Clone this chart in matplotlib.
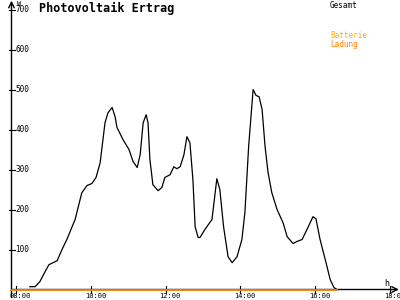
import matplotlib
matplotlib.use("Agg")
import matplotlib.pyplot as plt
import numpy as np

# Gesamt power in W, time in decimal hours
hours = [8.37, 8.51, 8.64, 8.78, 8.88, 8.99, 9.10, 9.23, 9.36, 9.58, 9.76, 9.90,
         10.03, 10.14, 10.25, 10.38, 10.46, 10.57, 10.65, 10.70, 10.86, 11.02, 11.13,
         11.24, 11.32, 11.40, 11.48, 11.53, 11.58, 11.66, 11.80, 11.90, 11.98, 12.12,
         12.22, 12.30, 12.39, 12.49, 12.57, 12.65, 12.73, 12.79, 12.87, 12.92, 13.05,
         13.24, 13.37, 13.45, 13.55, 13.67, 13.78, 13.91, 14.04, 14.12, 14.22, 14.34,
         14.42, 14.50, 14.58, 14.66, 14.74, 14.84, 14.98, 15.14, 15.25, 15.41, 15.51,
         15.65, 15.78, 15.94, 16.02, 16.13, 16.29, 16.40, 16.50, 16.58]
gesamt = [7, 7, 20, 45, 62, 67, 72, 100, 125, 175, 242, 260,
          265, 280, 317, 417, 442, 455, 432, 405, 375, 350, 320,
          305, 337, 417, 437, 417, 325, 262, 247, 255, 280, 287,
          307, 302, 307, 337, 382, 367, 275, 157, 130, 130, 150,
          175, 277, 250, 157, 82, 67, 82, 125, 192, 357, 500,
          485, 482, 450, 357, 292, 242, 200, 167, 132, 115, 120,
          125, 150, 182, 177, 125, 67, 25, 5, 0]

# Ladung stays at zero all day
ladung_hours = [7.87, 16.58]
ladung = [0, 0]

y_ticks = [100, 200, 300, 400, 500, 600, 700]
x_ticks = [8, 10, 12, 14, 16, 18]
x_labels = ["08:00", "10:00", "12:00", "14:00", "16:00", "18:00"]

W, H = 400, 300
fig = plt.figure(figsize=(4, 3), dpi=100)
ax = fig.add_axes([0, 0, 1, 1])
x0 = 8 + (0 - 16) / 37.4
x1 = 8 + (W - 16) / 37.4
ax.set_xlim(x0, x1)
ax.set_ylim(-26.25, 723.75)
ax.axis("off")

axis_x = 8 + (11.5 - 16) / 37.4
mono = "DejaVu Sans Mono"

# axes with arrows
ax.annotate("", xy=(x1 - 0.03, 0), xytext=(axis_x, 0),
            arrowprops=dict(arrowstyle="->", lw=1, color="black", shrinkA=0, shrinkB=0))
ax.annotate("", xy=(axis_x, 722), xytext=(axis_x, -20),
            arrowprops=dict(arrowstyle="->", lw=1, color="black", shrinkA=0, shrinkB=0))

# y ticks: small crosses and labels
dx = 3 / 37.4
for v in y_ticks:
    ax.plot([axis_x - dx, axis_x + dx], [v, v], color="black", lw=0.8)
    ax.text(axis_x + 4 / 37.4, v, str(v), fontsize=5.5, family=mono,
            ha="left", va="center")

# x ticks and labels
for t, lab in zip(x_ticks, x_labels):
    ax.plot([t, t], [-8, 8], color="black", lw=0.8)
    ax.text(t - 6 / 37.4, -8.5, lab, fontsize=5, family=mono,
            ha="left", va="top")

ax.plot(hours, gesamt, color="black", lw=0.9)
ax.plot(ladung_hours, ladung, color="#ff8000", lw=1.3, zorder=5)

fig.text(17 / W, 1 - 1 / H, "W", fontsize=5, family=mono, ha="left", va="top")
fig.text(384 / W, 1 - 283 / H, "h", fontsize=6, family=mono, ha="left", va="center")
fig.text(39 / W, 1 - 8 / H, "Photovoltaik Ertrag", fontsize=8.5, family=mono,
         fontweight="bold", ha="left", va="center")
fig.text(330 / W, 1 - 5 / H, "Gesamt", fontsize=5.5, family=mono, ha="left", va="center")
fig.text(330 / W, 1 - 36 / H, "Batterie", fontsize=5.5, family=mono, color="#ffb000",
         ha="left", va="center")
fig.text(330 / W, 1 - 44 / H, "Ladung", fontsize=5.5, family=mono, color="#ff8000",
         ha="left", va="center")

fig.savefig("out.png", dpi=100)
